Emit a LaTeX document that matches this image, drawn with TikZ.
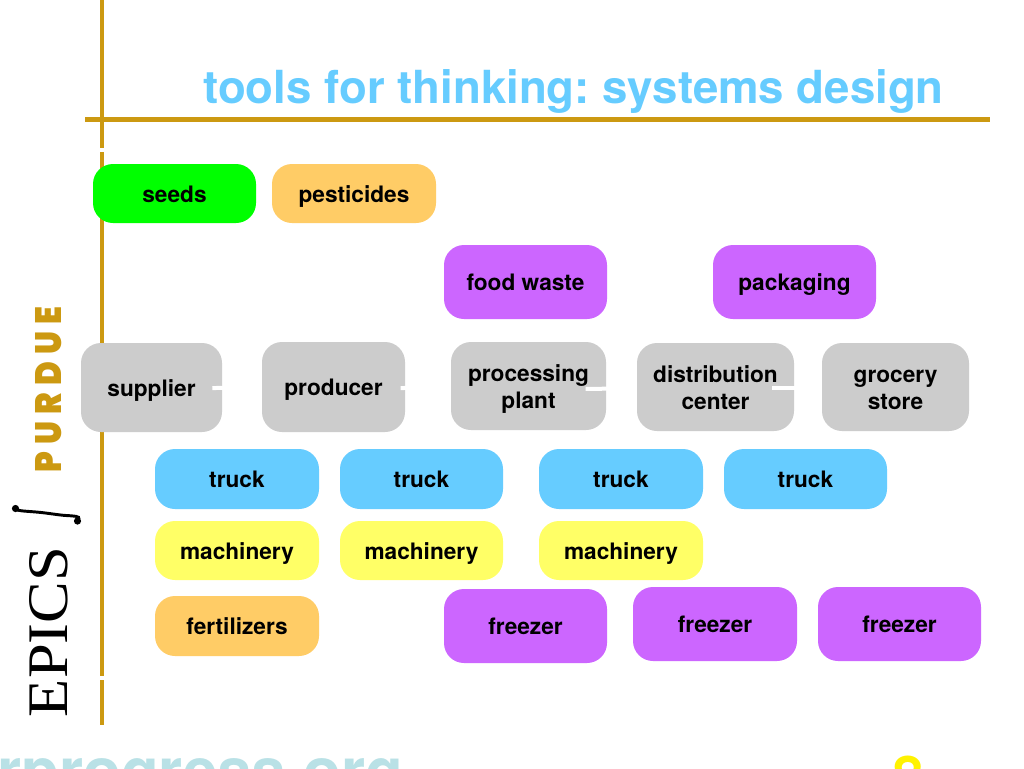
\documentclass[tikz,border=0pt]{standalone}
\usepackage{graphicx}
\usepackage{fontspec}
\setmainfont{TeX Gyre Heros}
\newfontfamily\purduefont[LetterSpace=22]{Poppins Black}
\newfontfamily\epicsfont{Liberation Serif}
\newcommand\twolines[2]{\raisebox{-0.3pt}[0pt][0pt]{\def\arraystretch{1.02}\begin{tabular}[c]{@{}c@{}}#1\\#2\end{tabular}}}
\definecolor{gold}{HTML}{CC9911}
\definecolor{ftitle}{HTML}{66CCFF}
\definecolor{fgreen}{HTML}{00FF00}
\definecolor{forange}{HTML}{FFCC66}
\definecolor{fpurple}{HTML}{CC66FF}
\definecolor{fgray}{HTML}{CCCCCC}
\definecolor{fblue}{HTML}{66CCFF}
\definecolor{fyellow}{HTML}{FFFF66}
\definecolor{fteal}{HTML}{B9E1E6}
\tikzset{
  px/.style={x=0.75pt,y=-0.75pt},
  box/.style={rounded corners=15pt,inner sep=0pt,align=center,font=\fontsize{17}{20}\selectfont\bfseries,text=black,execute at begin node={\rule{0pt}{19pt}},execute at end node={\rule[-6pt]{0pt}{6pt}}},
  bx/.style n args={4}{box,minimum width=#3*0.75pt,minimum height=#4*0.75pt,fill=#1,anchor=center,at={#2}},
  goldline/.style={draw=gold,line width=3pt},
  tick/.style={draw=white,line width=2.6pt},
  link/.style={draw=white,line width=3pt}
}
\begin{document}
\frenchspacing
\begin{tikzpicture}[px]
\useasboundingbox (0,0) rectangle (1024,768);
\clip (0,0) rectangle (1024,768);
\fill[white] (0,0) rectangle (1024,768);
\draw[goldline] (102,0) -- (102,725);
\draw[goldline,line width=3.6pt] (85,119.5) -- (990,119.5);
\draw[tick] (99,150) -- (105,150);
\draw[tick] (99,678) -- (105,678);
\node[anchor=base west,inner sep=0pt,text=ftitle,font=\fontsize{34.2}{40}\selectfont\bfseries] (title) at (203,103) {tools for thinking: systems design};
% logo
\node[rotate=90,inner sep=0pt,text=gold] (purdue) at (49,389.5) {\resizebox{123.8pt}{19.5pt}{\purduefont PURDUE}};
\node[rotate=90,inner sep=0pt,text=black] (epics) at (49,632) {\resizebox{127.5pt}{28.5pt}{\epicsfont EPICS}};
\fill[black] (15.5,508.5) circle (3.6);
\fill[black] (77.5,521) circle (3.6);
\draw[black,line width=2.2pt,line cap=round] (15,509) .. controls (18,511) and (24,511) .. (36,512) .. controls (48,513) and (58,515) .. (66,515.5) .. controls (74,516) and (80,516) .. (79,519);
% bottom
\node[anchor=base west,inner sep=0pt,text=fteal,font=\fontsize{46.4}{50}\selectfont\bfseries] (url) at (-3,792) {rprogress.org};
\node[anchor=base,inner sep=0pt,text=yellow,font=\fontsize{43}{50}\selectfont\bfseries] (num) at (908,797) {8};
% boxes
\node[bx={fgreen}{(174.5,193.5)}{163}{59}] (seeds) {seeds};
\node[bx={forange}{(354,193.5)}{164}{59}] (pest) {pesticides};
\node[bx={fpurple}{(525.5,282)}{163}{74}] (waste) {food waste};
\node[bx={fpurple}{(794.5,282)}{163}{74}] (pack) {packaging};
\node[bx={fgray}{(151.5,387.5)}{141}{89}] (supplier) {supplier};
\node[bx={fgray}{(333.5,387)}{143}{90}] (producer) {producer};
\node[bx={fgray}{(528.5,386)}{155}{88}] (plant) {\twolines{processing}{plant}};
\node[bx={fgray}{(715.5,387)}{157}{88}] (dist) {\twolines{distribution}{center}};
\node[bx={fgray}{(895.5,387)}{147}{88}] (store) {\twolines{grocery}{store}};
\node[bx={fblue}{(237,479)}{164}{60}] (t1) {truck};
\node[bx={fblue}{(421.5,479)}{163}{60}] (t2) {truck};
\node[bx={fblue}{(621,479)}{164}{60}] (t3) {truck};
\node[bx={fblue}{(805.5,479)}{163}{60}] (t4) {truck};
\node[bx={fyellow}{(237,550.5)}{164}{59}] (m1) {machinery};
\node[bx={fyellow}{(421.5,550.5)}{163}{59}] (m2) {machinery};
\node[bx={fyellow}{(621,550.5)}{164}{59}] (m3) {machinery};
\node[bx={forange}{(237,626)}{164}{60}] (fert) {fertilizers};
\node[bx={fpurple}{(525.5,626)}{163}{74}] (f1) {freezer};
\node[bx={fpurple}{(715,624)}{164}{74}] (f2) {freezer};
\node[bx={fpurple}{(899.5,624)}{163}{74}] (f3) {freezer};
% white connectors
\draw[link] ([xshift=-7.5pt,yshift=-0.4pt]supplier.east) -- ([yshift=-0.4pt]producer.west);
\draw[link] ([xshift=-3.5pt,yshift=-0.8pt]producer.east) -- ([yshift=-0.8pt]plant.west);
\draw[link] ([xshift=-15.5pt,yshift=-2.2pt]plant.east) -- ([yshift=-1pt]dist.west);
\draw[link] ([xshift=-16.5pt,yshift=-0.8pt]dist.east) -- ([yshift=-0.8pt]store.west);
\end{tikzpicture}
\end{document}
